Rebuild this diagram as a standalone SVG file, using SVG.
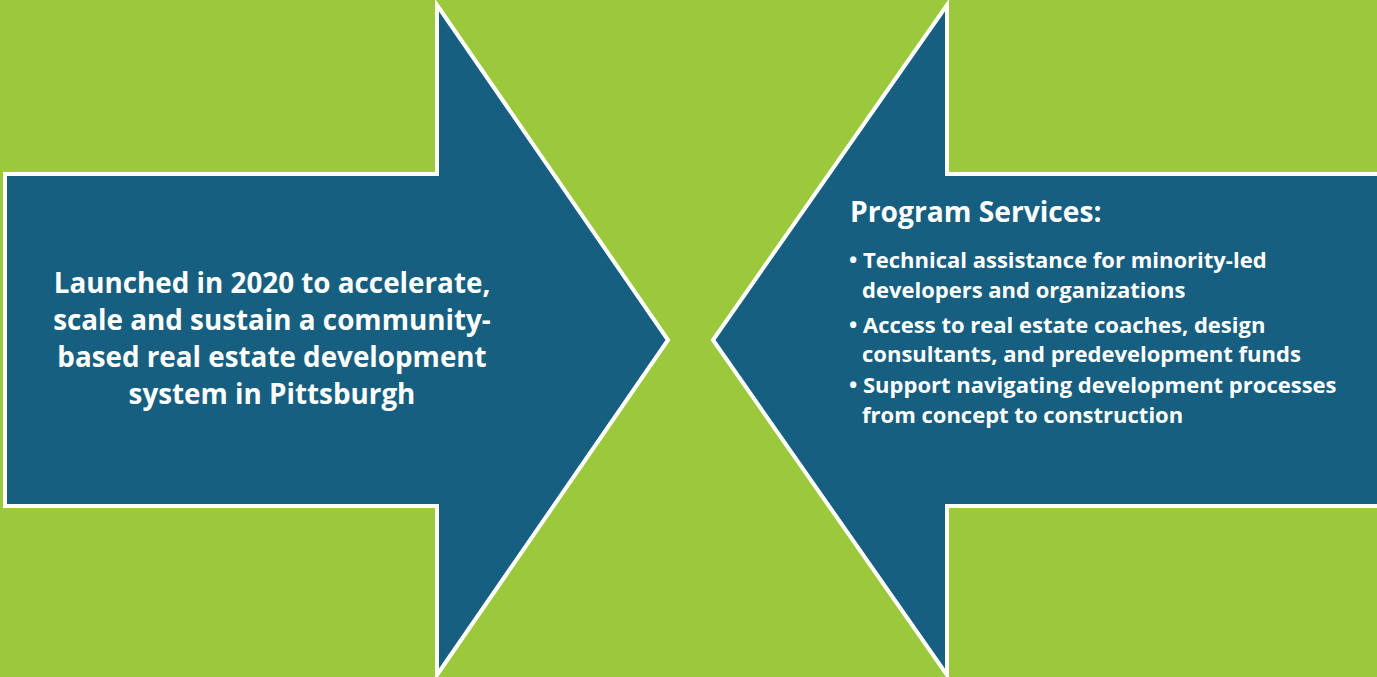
<svg xmlns="http://www.w3.org/2000/svg" width="1377" height="677" viewBox="0 0 1377 677">
  <style>
    .arrow { fill: #175F80; stroke: #FFFFFF; stroke-width: 4; stroke-linejoin: miter; }
    .lead { font-family: "Open Sans", "Liberation Sans", sans-serif; font-weight: 700; font-size: 27.8px; fill: #FFFFFF; text-anchor: middle; }
    .head { font-family: "Open Sans", "Liberation Sans", sans-serif; font-weight: 700; font-size: 28.2px; fill: #FFFFFF; }
    .item { font-family: "Open Sans", "Liberation Sans", sans-serif; font-weight: 700; font-size: 22px; fill: #FFFFFF; }
  </style>
  <rect width="1377" height="677" fill="#9BC93B"/>

  <!-- right-pointing arrow: origin and goals -->
  <g id="launch">
    <path class="arrow" d="M5,174 L437,174 L437,5 L668,340 L437,675 L437,506 L5,506 Z"/>
    <text class="lead" x="272" y="293">Launched in 2020 to accelerate,</text>
    <text class="lead" x="272" y="330">scale and sustain a community-</text>
    <text class="lead" x="272" y="367">based real estate development</text>
    <text class="lead" x="272" y="404">system in Pittsburgh</text>
  </g>

  <!-- left-pointing arrow: services offered -->
  <g id="services">
    <path class="arrow" d="M1382,174 L947,174 L947,5 L713,340 L947,675 L947,506 L1382,506 Z"/>
    <text class="head" x="850" y="222">Program Services:</text>
    <text class="item" x="849" y="268">•</text>
    <text class="item" x="863" y="268">Technical assistance for minority-led</text>
    <text class="item" x="862" y="298">developers and organizations</text>
    <text class="item" x="849" y="333">•</text>
    <text class="item" x="863" y="333">Access to real estate coaches, design</text>
    <text class="item" x="862" y="362">consultants, and predevelopment funds</text>
    <text class="item" x="849" y="393">•</text>
    <text class="item" x="863" y="393">Support navigating development processes</text>
    <text class="item" x="862" y="423">from concept to construction</text>
  </g>
</svg>
